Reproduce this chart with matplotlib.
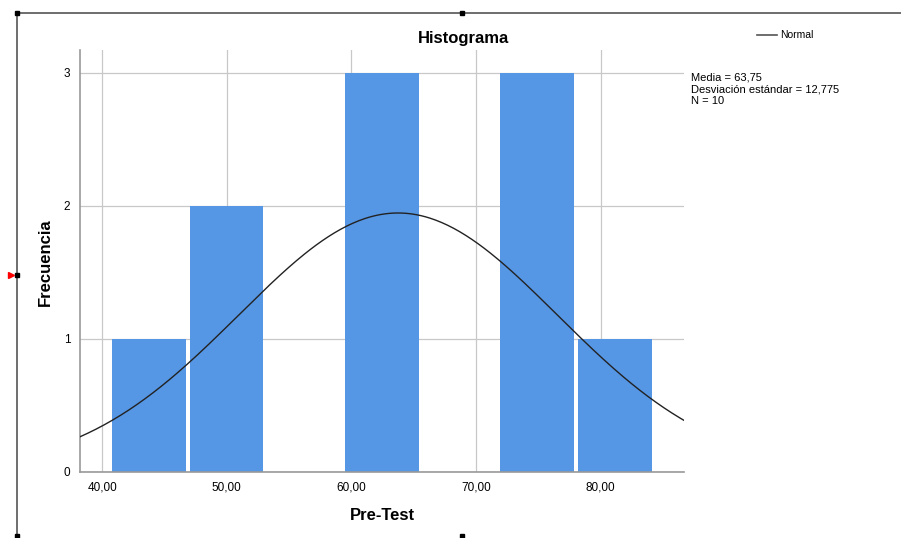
import numpy as np
import matplotlib
matplotlib.use("Agg")
import matplotlib.pyplot as plt
from matplotlib.lines import Line2D

# histogram bins
bin_edges = [40.80, 47.03, 53.26, 59.49, 65.72, 71.95, 78.18, 84.41]
counts = [1, 2, 0, 3, 0, 3, 1]
x_ticks = [40, 50, 60, 70, 80]
x_tick_labels = ["40,00", "50,00", "60,00", "70,00", "80,00"]
y_ticks = [0, 1, 2, 3]

mean = 63.75
std = 12.775
n = 10

plt.rcParams['font.family'] = ['Liberation Sans', 'DejaVu Sans']

fig = plt.figure(figsize=(9.01, 5.38), dpi=100)
ax = fig.add_axes([0.0888, 0.1227, 0.6704, 0.7844])

xmin, xmax = 38.23, 86.7
ax.set_xlim(xmin, xmax)
ax.set_ylim(0, 3.17)

# grid behind bars
ax.set_axisbelow(True)
ax.grid(True, color="#c8c8c8", linewidth=0.9)

bw = bin_edges[1] - bin_edges[0]
ax.bar(bin_edges[:-1], counts, width=bw - 0.31, align="edge",
       color="#5596e5", edgecolor="none", zorder=2)

# normal curve scaled to counts
xs = np.linspace(xmin, xmax, 300)
ys = n * bw / (std * np.sqrt(2 * np.pi)) * np.exp(-0.5 * ((xs - mean) / std) ** 2)
ax.plot(xs, ys, color="#222222", linewidth=1.0, zorder=3)

ax.set_xticks(x_ticks)
ax.set_xticklabels(x_tick_labels)
ax.set_yticks(y_ticks)
ax.tick_params(length=0, labelsize=8.5, pad=7)

for s in ["top", "right"]:
    ax.spines[s].set_visible(False)
for s in ["left", "bottom"]:
    ax.spines[s].set_color("#999999")
    ax.spines[s].set_linewidth(1.2)

fig.text(463 / 901, 1 - 38 / 538, "Histograma", ha="center", va="center",
         fontsize=12, fontweight="bold")
fig.text(382 / 901, 1 - 515 / 538, "Pre-Test", ha="center", va="center",
         fontsize=12, fontweight="bold")
fig.text(45 / 901, 1 - 262 / 538, "Frecuencia", ha="center", va="center",
         fontsize=12, fontweight="bold", rotation=90)

# legend and stats box
fig.add_artist(Line2D([757 / 901, 777 / 901], [1 - 35 / 538, 1 - 35 / 538],
                      color="#555555", linewidth=1.2))
fig.text(780 / 901, 1 - 35 / 538, "Normal", ha="left", va="center", fontsize=7.5)
stats_lines = [
    f"Media = {mean:.2f}".replace(".", ","),
    f"Desviación estándar = {std:.3f}".replace(".", ","),
    f"N = {n}",
]
for i, line in enumerate(stats_lines):
    fig.text(691 / 901, 1 - (78 + 11.5 * i) / 538, line,
             ha="left", va="center", fontsize=8)

# outer frame with selection handles
fig.add_artist(Line2D([17 / 901, 1], [1 - 13 / 538, 1 - 13 / 538],
                      color="#555555", linewidth=1.2))
fig.add_artist(Line2D([17 / 901, 17 / 901], [1 - 13 / 538, 0],
                      color="#555555", linewidth=1.2))
for hx, hy in [(17, 13), (462, 13), (17, 275), (17, 536), (462, 536)]:
    fig.add_artist(Line2D([hx / 901], [1 - hy / 538], marker="s", markersize=3.5,
                          color="black", linestyle="none"))
fig.add_artist(Line2D([11 / 901], [1 - 275 / 538], marker=">", markersize=5,
                      color="red", linestyle="none"))

fig.savefig("out.png", dpi=100)
